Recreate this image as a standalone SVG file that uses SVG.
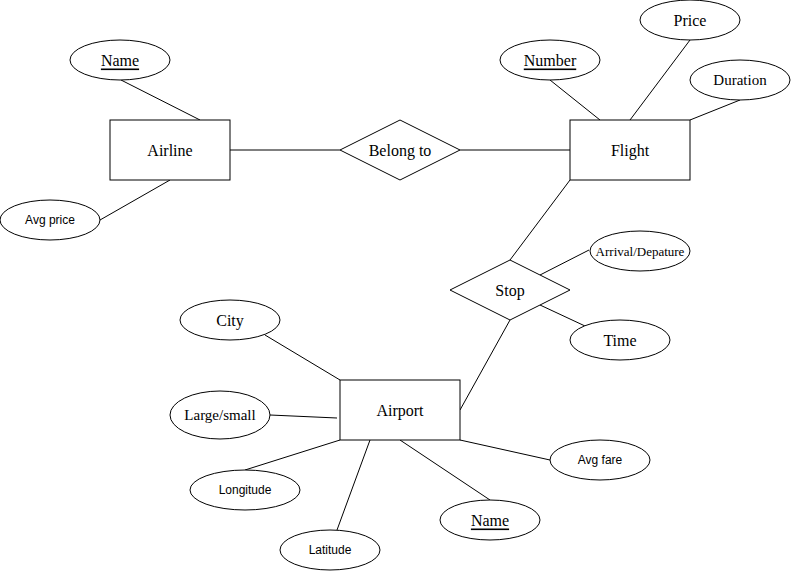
<svg xmlns="http://www.w3.org/2000/svg" width="791" height="571" viewBox="0 0 791 571">
<style>
.s{fill:#fff;stroke:#000;stroke-width:1}
.c line{stroke:#000;stroke-width:1}
.t{font-family:"Liberation Serif","Times New Roman",serif;font-size:16px;text-anchor:middle;dominant-baseline:central;fill:#000}
.a{font-family:"Liberation Sans",Arial,sans-serif;font-size:12px;text-anchor:middle;dominant-baseline:central;fill:#000}
.u{text-decoration:underline}
</style>
<rect width="791" height="571" fill="#fff"/>
<g class="c" id="connectors">
<line x1="121" y1="80" x2="200" y2="120"/>
<line x1="100" y1="220" x2="170" y2="180"/>
<line x1="230" y1="150" x2="340" y2="150"/>
<line x1="460" y1="150" x2="570" y2="150"/>
<line x1="550" y1="80" x2="600" y2="120"/>
<line x1="690" y1="40" x2="630" y2="120"/>
<line x1="740" y1="100" x2="690" y2="120"/>
<line x1="570" y1="180" x2="510" y2="260"/>
<line x1="540" y1="275" x2="589" y2="250"/>
<line x1="540" y1="305" x2="585" y2="326"/>
<line x1="510" y1="320" x2="460" y2="410"/>
<line x1="265" y1="335" x2="340" y2="380"/>
<line x1="270" y1="415" x2="337" y2="418"/>
<line x1="245" y1="470" x2="340" y2="440"/>
<line x1="337" y1="530" x2="370" y2="440"/>
<line x1="460" y1="440" x2="550" y2="460"/>
<line x1="400" y1="440" x2="490" y2="500"/>
</g>
<g id="airline"><rect class="s" x="110" y="120" width="120" height="60"/><text class="t" x="170" y="150">Airline</text></g>
<g id="airline-name"><ellipse class="s" cx="120" cy="60" rx="50" ry="20"/><text class="t u" x="120" y="60">Name</text></g>
<g id="avg-price"><ellipse class="s" cx="50" cy="220" rx="50" ry="20"/><text class="a" x="50" y="220">Avg price</text></g>
<g id="belong-to"><polygon class="s" points="400,120 460,150 400,180 340,150"/><text class="t" x="400" y="150">Belong to</text></g>
<g id="flight"><rect class="s" x="570" y="120" width="120" height="60"/><text class="t" x="630" y="150">Flight</text></g>
<g id="number"><ellipse class="s" cx="550" cy="60" rx="50" ry="20"/><text class="t u" x="550" y="60">Number</text></g>
<g id="price"><ellipse class="s" cx="690" cy="20" rx="50" ry="20"/><text class="t" x="690" y="20">Price</text></g>
<g id="duration"><ellipse class="s" cx="740" cy="80" rx="50" ry="20"/><text class="t" x="740" y="80" style="font-size:15px">Duration</text></g>
<g id="stop"><polygon class="s" points="510,260 570,290 510,320 450,290"/><text class="t" x="510" y="290">Stop</text></g>
<g id="arrival"><ellipse class="s" cx="640" cy="251" rx="50" ry="20"/><text class="t" x="640" y="251" style="font-size:13px">Arrival/Depature</text></g>
<g id="time"><ellipse class="s" cx="620" cy="340" rx="50" ry="20"/><text class="t" x="620" y="340">Time</text></g>
<g id="airport"><rect class="s" x="340" y="380" width="120" height="60"/><text class="t" x="400" y="410">Airport</text></g>
<g id="city"><ellipse class="s" cx="230" cy="320" rx="50" ry="20"/><text class="t" x="230" y="320">City</text></g>
<g id="large-small"><ellipse class="s" cx="220" cy="415" rx="50" ry="24"/><text class="t" x="220" y="415" style="font-size:15px">Large/small</text></g>
<g id="longitude"><ellipse class="s" cx="245" cy="490" rx="55" ry="20"/><text class="a" x="245" y="490">Longitude</text></g>
<g id="latitude"><ellipse class="s" cx="330" cy="550" rx="50" ry="20"/><text class="a" x="330" y="550">Latitude</text></g>
<g id="avg-fare"><ellipse class="s" cx="600" cy="460" rx="50" ry="20"/><text class="a" x="600" y="460">Avg fare</text></g>
<g id="airport-name"><ellipse class="s" cx="490" cy="520" rx="50" ry="20"/><text class="t u" x="490" y="520">Name</text></g>
</svg>
